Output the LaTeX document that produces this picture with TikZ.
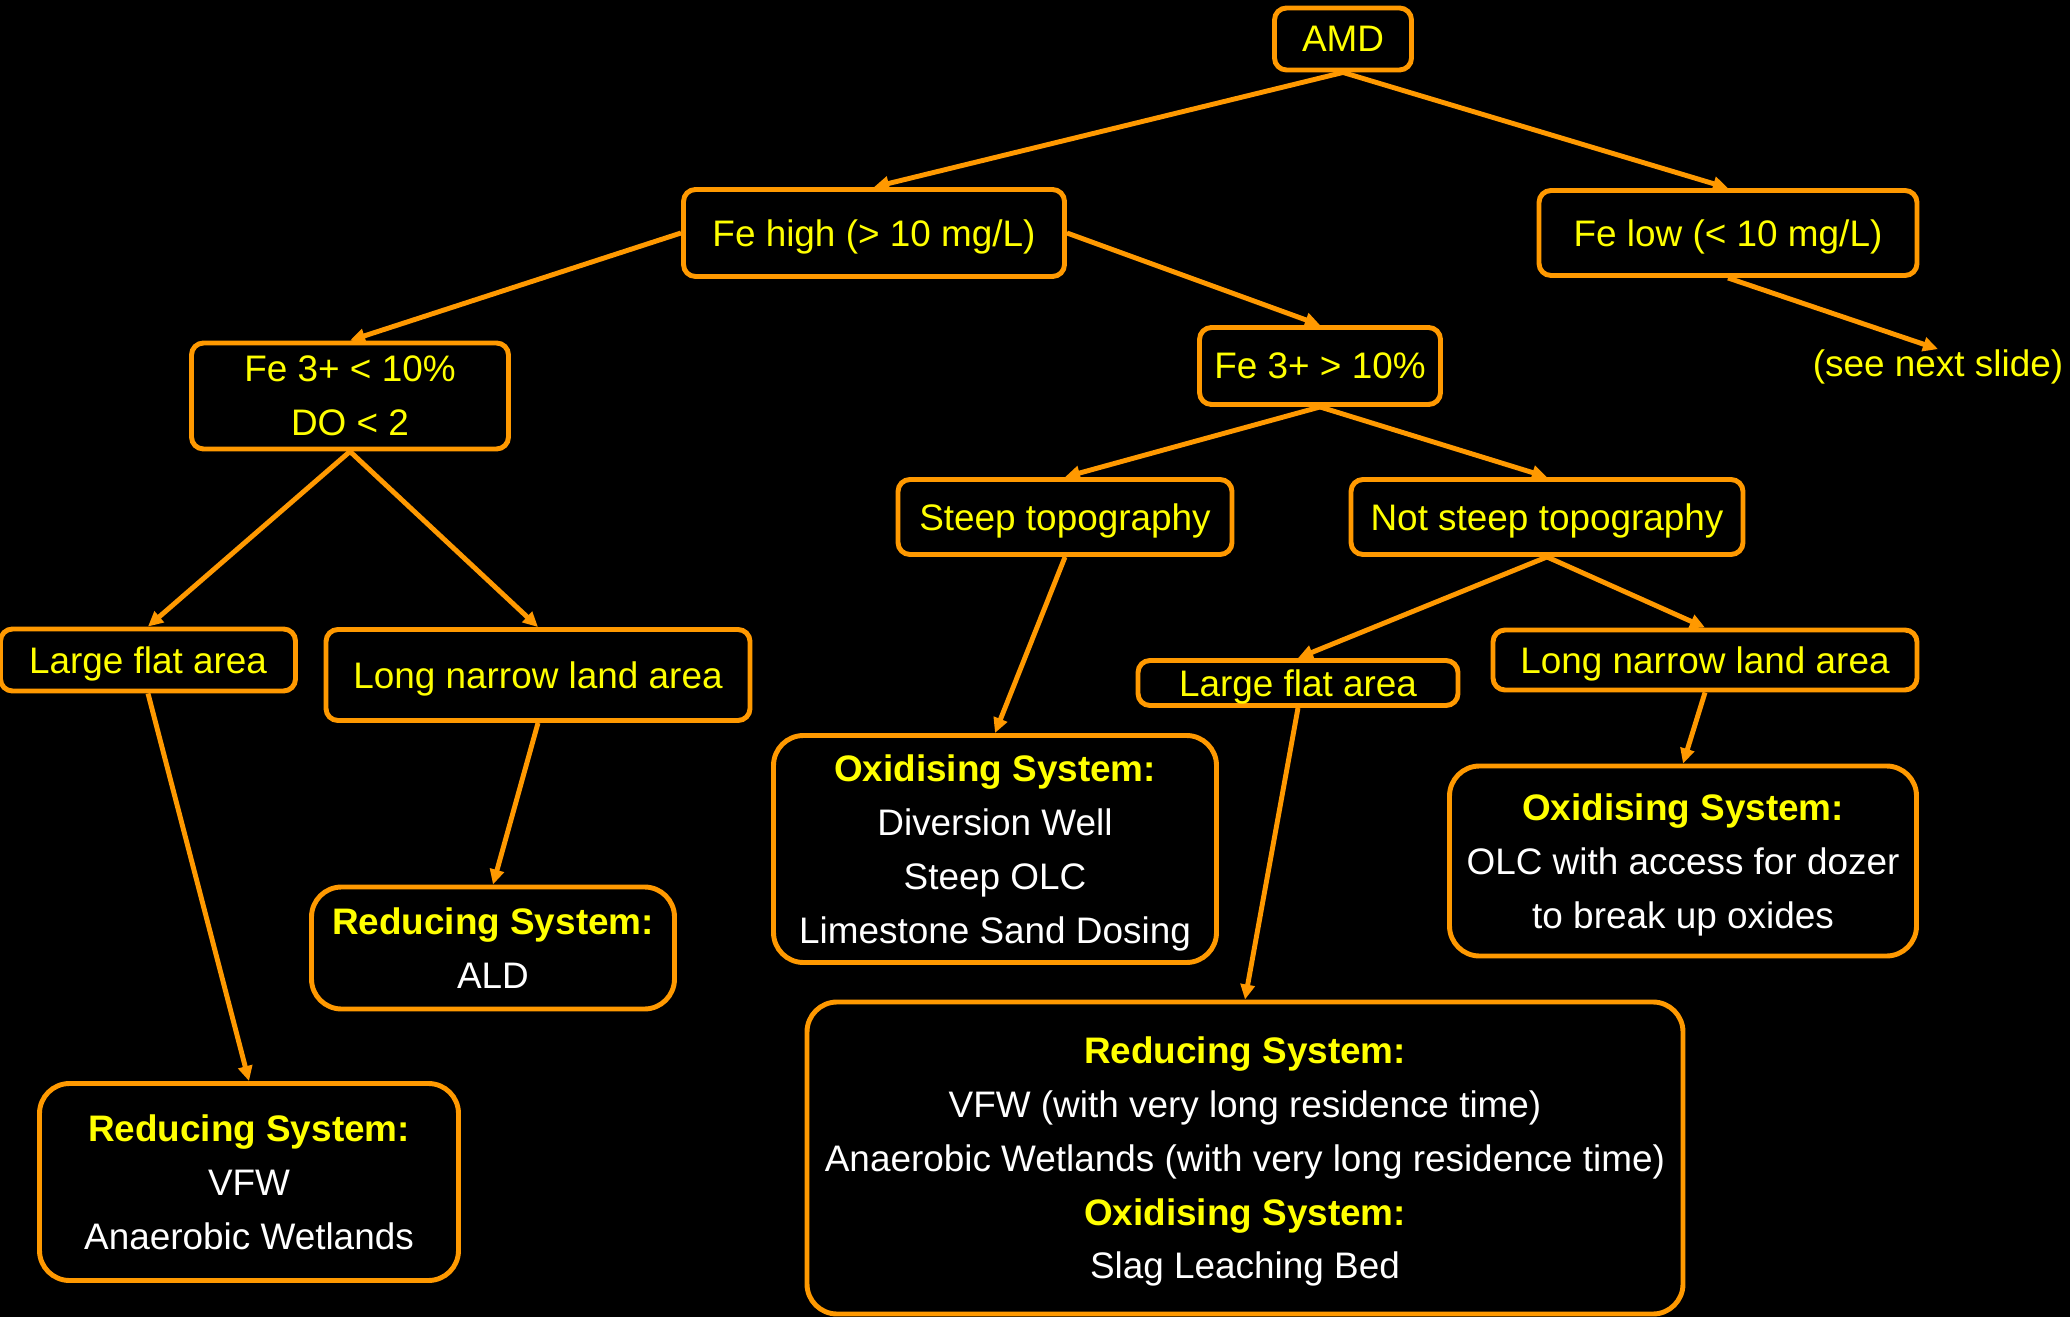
\documentclass[tikz,border=0pt]{standalone}
\usepackage{fontspec}
\setmainfont{Liberation Sans}
\usetikzlibrary{arrows.meta}
\definecolor{orng}{HTML}{FF9900}
\definecolor{yel}{HTML}{FFFF00}
\newcommand\hdg[1]{{\bfseries\color{yel}#1}}
\tikzset{
 box/.style={draw=orng, line width=1.4pt, rounded corners=0.12cm, text=yel, align=center, inner sep=0pt, text depth=0pt, font=\fontsize{10.5}{15.3}\selectfont},
 bigbox/.style={box, rounded corners=0.3cm, text=white},
 wh/.style 2 args={minimum width=#1cm, minimum height=#2cm},
 conn/.style={draw=orng, line width=1.4pt, -{Triangle[length=0.15cm,width=0.14cm]}},
 plain/.style={text=yel, inner sep=0pt, font=\fontsize{10.5}{15.3}\selectfont}
}
\begin{document}
\begin{tikzpicture}
\fill[black] (0,0) rectangle (20.70,-13.17);
\useasboundingbox (0,0) rectangle (20.70,-13.17);

\node[box, wh={1.37}{0.62}] (amd) at (13.43,-0.39) {AMD};
\node[box, wh={3.81}{0.87}] (fehigh) at (8.74,-2.33) {Fe high (> 10 mg/L)};
\node[box, wh={3.78}{0.85}] (felow) at (17.28,-2.33) {Fe low (< 10 mg/L)};
\node[box, wh={3.17}{1.06}] (fe3lo) at (3.50,-3.96) {Fe 3+ < 10\%\\DO < 2};
\node[box, wh={2.41}{0.77}] (fe3hi) at (13.20,-3.66) {Fe 3+ > 10\%};
\node[plain] (see) at (19.38,-3.67) {(see next slide)};
\node[box, wh={3.34}{0.75}] (steep) at (10.65,-5.17) {Steep topography};
\node[box, wh={3.92}{0.75}] (nsteep) at (15.47,-5.17) {Not steep topography};
\node[box, wh={2.95}{0.62}] (lfl) at (1.48,-6.60) {Large flat area};
\node[box, wh={4.24}{0.91}] (lnl) at (5.38,-6.75) {Long narrow land area};
\node[box, wh={3.20}{0.45}] (lfr) at (12.98,-6.83) {Large flat area};
\node[box, wh={4.24}{0.60}] (lnr) at (17.05,-6.60) {Long narrow land area};

\node[bigbox, wh={4.43}{2.27}] (oxs) at (9.95,-8.49) {\hdg{Oxidising System:}\\Diversion Well\\Steep OLC\\Limestone Sand Dosing};
\node[bigbox, wh={4.67}{1.90}] (oxr) at (16.83,-8.61) {\hdg{Oxidising System:}\\OLC with access for dozer\\to break up oxides};
\node[bigbox, wh={3.63}{1.22}] (ald) at (4.93,-9.48) {\hdg{Reducing System:}\\ALD};
\node[bigbox, wh={4.19}{1.97}] (vfw) at (2.49,-11.82) {\hdg{Reducing System:}\\VFW\\Anaerobic Wetlands};
\node[bigbox, wh={8.76}{3.12}] (big) at (12.45,-11.58) {\hdg{Reducing System:}\\VFW (with very long residence time)\\Anaerobic Wetlands (with very long residence time)\\\hdg{Oxidising System:}\\Slag Leaching Bed};

\draw[conn] (amd.south) -- (fehigh.north);
\draw[conn] (amd.south) -- (felow.north);
\draw[conn] (fehigh.west) -- (fe3lo.north);
\draw[conn] (fehigh.east) -- (fe3hi.north);
\draw[conn] (felow.south) -- (see.north);
\draw[conn] (fe3lo.south) -- (lfl.north);
\draw[conn] (fe3lo.south) -- (lnl.north);
\draw[conn] (fe3hi.south) -- (steep.north);
\draw[conn] (fe3hi.south) -- (nsteep.north);
\draw[conn] (steep.south) -- (oxs.north);
\draw[conn] (nsteep.south) -- (lfr.north);
\draw[conn] (nsteep.south) -- (lnr.north);
\draw[conn] (lfl.south) -- (vfw.north);
\draw[conn] (lnl.south) -- (ald.north);
\draw[conn] (lfr.south) -- (big.north);
\draw[conn] (lnr.south) -- (oxr.north);
\end{tikzpicture}
\end{document}
